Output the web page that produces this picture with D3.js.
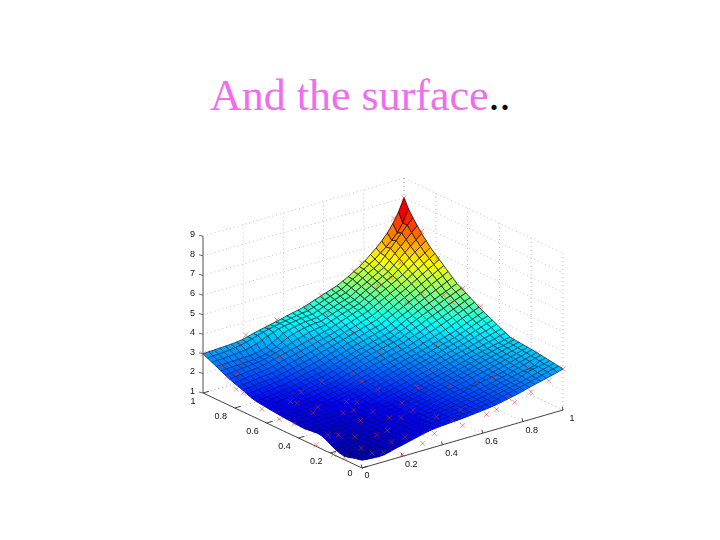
<!DOCTYPE html>
<html><head><meta charset="utf-8">
<script src="https://d3js.org/d3.v7.min.js"></script>
<style>html,body{margin:0;background:#fff}svg{display:block}</style></head>
<body><script>
const titleMain = "And the surface";
const titleDots = "..";
const zTicks = [1,2,3,4,5,6,7,8,9];
const xyTicks = [0,0.2,0.4,0.6,0.8,1];
const xyLabels = ["0","0.2","0.4","0.6","0.8","1"];
// surface heights (z x 100); rows = v from 0 to 1, columns = u from 0 to 1
const surfaceZ = [
[140,137,135,133,135,142,150,156,163,170,177,184,190,194,197,199,201,203,205,208,211,214,217,221,225,231,237,243,249,257,265,272,279,286,293,301,310],
[135,136,136,135,137,143,149,155,162,169,176,182,188,191,194,197,200,202,205,208,212,216,220,224,227,234,241,248,255,262,268,276,284,292,300,307,313],
[130,134,137,138,140,144,149,155,161,167,173,179,185,188,191,195,198,202,205,209,213,218,222,226,230,237,243,250,257,264,270,278,286,294,302,310,317],
[122,128,134,137,140,145,148,154,160,165,171,177,183,187,190,194,198,201,205,209,214,218,223,228,232,239,245,252,259,266,272,282,293,301,306,312,320],
[118,125,132,136,141,145,147,153,158,164,169,175,180,184,188,193,197,201,205,210,215,220,225,230,235,242,248,255,262,268,275,283,288,292,300,315,323],
[122,128,134,137,141,145,146,152,157,162,168,173,178,183,187,192,196,201,205,211,216,222,227,233,238,244,251,257,264,271,277,286,294,302,311,319,327],
[130,135,138,140,142,144,145,150,155,160,165,170,175,180,185,190,195,200,205,211,217,223,229,237,243,251,258,264,270,274,280,288,296,304,312,321,330],
[142,142,143,144,145,146,147,152,157,162,166,171,176,181,186,192,197,202,207,213,219,225,231,235,238,243,251,260,269,277,284,292,300,308,317,325,333],
[156,154,152,150,148,148,148,153,158,163,167,172,177,182,187,193,198,203,208,215,221,228,234,241,247,254,261,268,274,281,288,296,304,312,319,327,335],
[166,162,157,153,151,151,151,155,160,164,169,173,178,183,189,194,199,205,210,217,224,230,237,243,250,257,264,271,278,285,292,299,307,314,322,330,337],
[170,163,157,155,154,154,154,158,162,166,170,174,178,184,190,195,201,206,212,219,226,233,239,246,253,260,268,275,282,290,297,304,312,319,326,333,340],
[168,162,158,157,157,157,157,161,164,168,172,175,179,185,191,196,202,207,213,220,228,235,242,250,257,264,272,279,286,294,301,308,315,322,328,335,342],
[165,160,157,156,156,158,160,163,166,170,173,176,180,186,192,198,203,209,215,223,230,238,245,253,260,268,275,283,290,298,305,312,319,326,332,339,345],
[162,161,161,161,161,162,163,166,170,173,177,180,184,190,196,203,209,215,221,228,236,243,251,258,266,274,281,289,297,304,312,319,326,334,341,349,356],
[163,163,164,164,165,166,167,170,174,177,181,184,188,194,201,207,214,220,227,234,242,249,256,264,271,279,287,295,302,310,318,326,334,342,350,358,366],
[165,165,166,167,168,169,170,174,178,181,185,188,192,199,205,212,219,225,232,240,248,255,263,270,278,286,294,302,309,317,325,334,343,352,360,369,378],
[167,168,169,170,171,172,173,177,181,185,189,193,197,204,211,218,224,231,238,246,253,261,268,276,283,291,299,308,316,324,332,341,351,360,369,379,388],
[168,170,171,173,174,176,177,181,185,189,193,197,201,208,215,223,230,237,244,252,259,267,274,282,289,297,305,314,322,330,338,348,358,369,379,390,400],
[170,171,173,174,176,178,180,184,188,192,196,200,205,212,220,228,235,243,250,258,265,273,280,288,295,303,311,320,328,337,345,355,366,377,388,399,410],
[172,174,176,178,180,182,184,189,193,198,202,207,211,219,227,235,242,250,258,265,273,280,287,295,302,311,321,330,339,349,358,369,380,390,401,412,423],
[175,177,179,181,184,186,188,193,197,202,207,211,216,224,233,241,250,258,267,274,281,288,296,303,310,320,330,340,350,360,370,381,392,404,415,426,437],
[177,180,182,185,188,190,193,198,203,207,212,217,222,231,239,248,256,265,273,281,288,296,303,311,318,329,339,350,361,371,382,393,405,416,427,439,450],
[180,183,186,189,191,194,197,202,207,213,218,223,228,237,246,256,265,274,283,290,297,304,311,318,325,337,349,361,372,384,396,407,418,430,441,452,463],
[183,186,189,192,195,198,201,207,212,218,223,229,234,243,252,262,271,280,289,296,303,311,318,326,333,346,358,371,383,396,408,419,431,443,454,466,477],
[185,188,191,195,198,201,205,211,217,223,228,234,240,249,258,267,277,286,295,302,310,318,325,333,340,353,366,380,393,407,420,431,443,455,466,478,490],
[192,196,199,203,206,210,213,219,225,232,238,244,250,259,268,276,285,294,303,311,319,327,335,343,351,365,378,392,405,419,432,445,458,471,484,497,510],
[200,204,207,211,215,218,222,228,235,241,247,254,260,268,277,285,294,302,311,319,328,336,345,353,362,376,390,404,417,431,445,459,473,488,502,516,530],
[210,213,217,220,223,227,230,237,243,250,257,263,270,278,287,295,303,312,320,329,337,346,355,363,372,386,401,415,429,444,458,473,488,504,519,535,550],
[218,221,225,228,231,235,238,245,252,259,266,273,280,288,296,304,312,320,328,337,346,355,365,374,383,398,412,427,441,456,470,487,503,520,537,553,570],
[226,230,233,237,240,244,247,254,261,269,276,283,290,298,305,313,321,328,336,346,355,365,375,384,394,409,423,438,453,467,482,500,518,536,554,572,590],
[235,238,241,245,248,251,255,262,270,278,285,293,300,307,315,322,330,337,345,355,365,375,385,395,405,420,435,450,465,480,495,512,532,552,572,590,610],
[245,248,251,254,256,259,261,267,275,283,292,302,312,322,330,338,345,349,353,364,374,384,393,403,412,428,443,459,474,490,505,527,548,570,592,613,635],
[256,257,258,259,260,262,264,268,275,284,296,311,326,336,344,351,356,359,361,371,381,391,401,410,420,436,452,468,483,499,515,539,564,588,612,636,660],
[267,268,269,270,271,272,273,277,283,293,306,321,337,347,354,360,364,366,368,378,388,398,408,417,427,444,461,476,492,509,525,552,580,608,635,662,690],
[278,280,281,283,285,288,292,298,307,318,330,340,350,356,361,366,370,372,375,385,396,406,416,426,435,452,468,485,502,518,535,565,596,627,658,689,720],
[289,291,292,294,297,301,306,313,321,330,338,346,352,358,364,369,374,378,382,392,402,413,423,433,442,459,477,494,512,529,547,570,592,618,648,690,755],
[300,302,303,305,306,308,310,315,322,330,337,343,350,356,363,370,377,383,390,400,410,420,430,440,450,465,480,497,515,535,560,585,612,645,685,735,800]
];
const markerU = [0,.02,.19,.3,.36,.51,.58,.75,.79,.95,1,1,1,1,1,1,1,1,.93,.84,.76,.67,.62,.5,.36,.31,.2,0,.03,0,.01,0,0,0,.01,0,0,
.18,.11,.12,.16,.12,.3,.43,.41,.42,.27,.3,.25,.3,.2,.31,.23,.26,.08,.13,.2,.06,.09,.13,.09,
.76,.81,.87,.8,.65,.66,.57,.56,.56,.42,.34,.24,.18,.04,.11,.91,.92,.94,.74,.74,.7,.76,.77,.91,.61,.52,.62,.57,.42,.42,.36,.45,.49,.27,.21];
const markerV = [1,.97,.97,.97,.99,.99,.99,1,1,1,1,.89,.79,.63,.52,.32,.16,0,0,0,0,0,0,0,0,.01,0,.85,.82,.79,.76,.63,.52,.43,.3,.18,.11,
.61,.59,.56,.48,.46,.63,.6,.52,.43,.44,.41,.37,.31,.37,.22,.3,.17,.25,.21,.16,.29,.12,.03,.05,
.86,.84,.86,.73,.65,.61,.61,.77,.93,.86,.93,.82,1,.93,.9,.77,.65,.62,.47,.31,.16,.13,.05,.11,.34,.31,.23,.1,.28,.21,.21,.1,.05,.07,.08];
const markerZ = [3,3.1,3.5,3.6,3.7,3.9,4.3,5,5.3,7.1,8,6.7,5.7,4.8,4.3,3.4,3.3,3.1,2.7,2.4,2.1,2,1.9,1.7,1.7,1.3,1.1,2.4,2.6,2,1.9,1.6,1.5,1.6,1,1,1.1,
2,1.8,1.8,1.8,1.7,2.1,2.3,2.2,2.1,1.9,1.9,1.8,1.8,1.8,1.8,1.6,1.5,1.5,1.4,1.5,1.4,1.3,1.3,1.3,
4.8,5.1,5.6,4.3,3.1,2.9,2.9,3.3,3.6,3,3,2.8,3,2.6,2.6,4.3,4.6,4.3,3.3,2.9,2.7,2.9,2.1,3,2.8,2.4,2.5,1.9,2,1.9,1.7,1.9,1.8,1.5,1.4];

const W = 720, H = 540, n = surfaceZ.length - 1;
const svg = d3.select("body").append("svg").attr("width", W).attr("height", H);
svg.append("defs").append("filter").attr("id","soft")
  .append("feGaussianBlur").attr("stdDeviation",0.4);

svg.append("text").attr("x",210).attr("y",110)
  .attr("font-family","'Liberation Serif',serif").attr("font-size",44)
  .call(t=>{
    t.append("tspan").attr("fill","#ee6eee").text(titleMain);
    t.append("tspan").attr("fill","#000").text(titleDots);
  });

// oblique 3-D projection built from linear scales
const uX = d3.scaleLinear([0,1],[0,201]), uY = d3.scaleLinear([0,1],[0,58]);
const vX = d3.scaleLinear([0,1],[0,159]), vY = d3.scaleLinear([0,1],[0,75]);
const zY = d3.scaleLinear([1,9],[0,156.8]);
const P = (u,v,z)=>[362+uX(u)-vX(v), 468-uY(u)-vY(v)-zY(z)];
const jetStops = [0,.125,.375,.625,.875,1];
const jetCols = ["#000080","#0000ff","#00ffff","#ffff00","#ff0000","#800000"];
const jet = d3.scaleLinear().domain(jetStops).range(jetCols).interpolate(d3.interpolateRgb).clamp(true);
const norm = d3.scaleLinear([0.9,8.3],[0,1]);
const edgeMix = d3.scaleLinear([2.4,4.2],[0.38,0.8]).clamp(true);
const line = d3.line();
const g = svg.append("g").attr("filter","url(#soft)");

function seg(a,b,o){ g.append("path").attr("d",line([a,b])).attr("fill","none")
  .attr("stroke",o.c).attr("stroke-width",o.w).attr("stroke-dasharray",o.d||null); }
const dot = {c:"#a8a8a8",w:0.7,d:"1 3"};
// walls and floor grid
zTicks.forEach(z=>{
  seg(P(0,1,z),P(1,1,z),dot);
  seg(P(1,1,z),P(1,0,z),dot);
});
xyTicks.forEach(t=>{
  seg(P(t,1,1),P(t,1,9),dot);
  seg(P(1,t,1),P(1,t,9),dot);
  seg(P(t,0,1),P(t,1,1),dot);
  seg(P(0,t,1),P(1,t,1),dot);
});
// axes
seg(P(0,0,1),P(0,1,1),{c:"#333",w:0.9});
seg(P(0,0,1),P(1,0,1),{c:"#333",w:0.9});
seg(P(0,1,1),P(0,1,9),{c:"#a8a8a8",w:2});
xyTicks.forEach(t=>{
  seg(P(t,0,1),P(t+0.02,0.03,1),{c:"#333",w:0.9});
  seg(P(0,t,1),P(0.03,t,1),{c:"#333",w:0.9});
});
zTicks.forEach(z=>{ const p=P(0,1,z); seg([p[0]-4,p[1]-1],p,{c:"#444",w:0.8}); });

// surface, painted back to front
const quads = [];
for(let j=0;j<n;j++) for(let i=0;i<n;i++){
  const zs=[surfaceZ[j][i],surfaceZ[j][i+1],surfaceZ[j+1][i+1],surfaceZ[j+1][i]].map(d=>d/100);
  quads.push({i,j,z:d3.mean(zs),pts:[P(i/n,j/n,zs[0]),P((i+1)/n,j/n,zs[1]),P((i+1)/n,(j+1)/n,zs[2]),P(i/n,(j+1)/n,zs[3])]});
}
quads.sort((a,b)=>(b.i+b.j)-(a.i+a.j));
g.append("g").selectAll("path").data(quads).join("path")
  .attr("d",d=>line(d.pts)+"Z")
  .attr("fill",d=>jet(norm(d.z)))
  .attr("stroke",d=>d3.interpolateRgb(jet(norm(d.z)),"#000")(edgeMix(d.z)))
  .attr("stroke-width",0.9);

// measured sample markers
g.append("g").selectAll("path").data(markerU.map((u,k)=>P(u,markerV[k],markerZ[k]))).join("path")
  .attr("d",p=>`M${p[0]-2.5},${p[1]-2.5}L${p[0]+2.5},${p[1]+2.5}M${p[0]-2.5},${p[1]+2.5}L${p[0]+2.5},${p[1]-2.5}`)
  .attr("stroke","#e63030").attr("stroke-width",1).attr("stroke-opacity",0.5).attr("fill","none");

// tick labels
const lab = svg.append("g").attr("font-family","'Liberation Sans',sans-serif").attr("font-size",9).attr("fill","#111").attr("filter","url(#soft)");
zTicks.forEach(z=>{ const p=P(0,1,z); lab.append("text").attr("x",p[0]-8).attr("y",p[1]+1).attr("text-anchor","end").text(z); });
xyTicks.forEach((t,k)=>{
  const a=P(0,t,1), b=P(t,0,1);
  lab.append("text").attr("x",a[0]-(k==0?12:(k==5?10:14))).attr("y",a[1]+(k==0?8:11)).attr("text-anchor","middle").text(xyLabels[k]);
  lab.append("text").attr("x",b[0]+(k==0?5:9)).attr("y",b[1]+(k==0?10:11)).attr("text-anchor","middle").text(xyLabels[k]);
});
</script></body></html>
